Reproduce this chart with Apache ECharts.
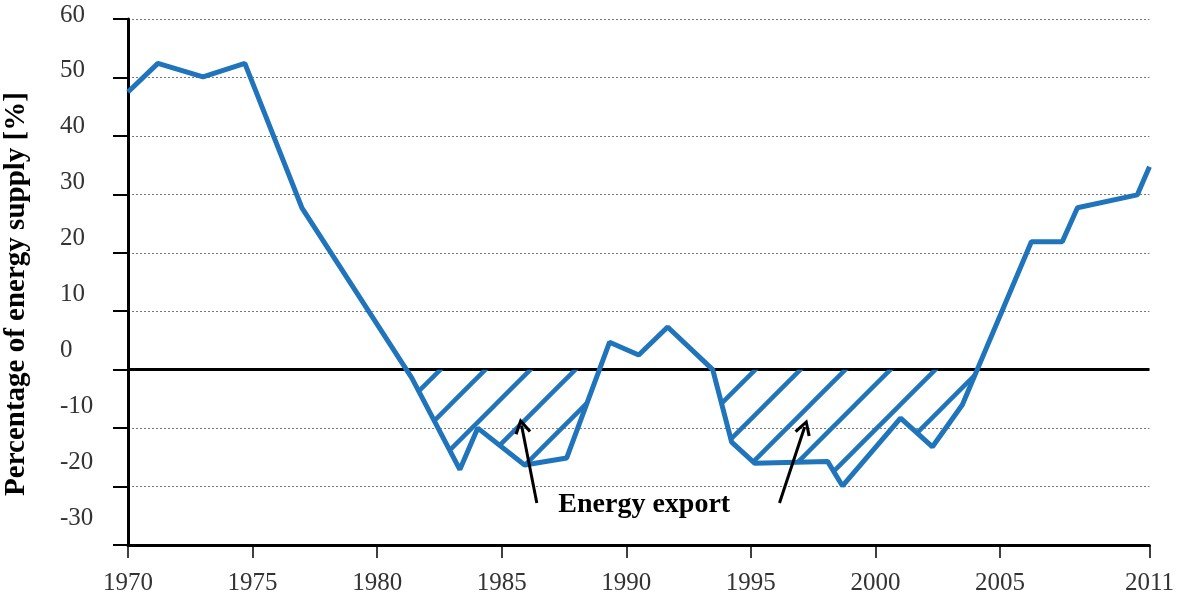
<!DOCTYPE html>
<html>
<head>
<meta charset="utf-8">
<script src="https://cdn.jsdelivr.net/npm/echarts@6/dist/echarts.min.js"></script>
<style>
  html, body { margin: 0; padding: 0; background: #fff; }
  #main { width: 1177px; height: 597px; }
</style>
</head>
<body>
<div id="main"></div>
<script>
// (x in years, y in %)
const years = [1970.00, 1971.20, 1973.01, 1974.69, 1976.98, 1981.39, 1983.32, 1984.04, 1985.92, 1987.61,
  1989.33, 1990.50, 1991.66, 1993.47, 1994.23, 1995.15, 1998.08, 1998.68, 2001.01, 2002.29,
  2003.49, 2006.26, 2007.50, 2008.11, 2010.51, 2011.00]
const share = [47.5, 52.4, 50.1, 52.4, 27.7, -1.4, -17.1, -10.0, -16.3, -15.1,
  4.7, 2.5, 7.3, 0.0, -12.4, -16.0, -15.7, -19.9, -8.3, -13.2,
  -6.0, 21.9, 21.9, 27.7, 29.9, 34.7]
const xTickYears = [1970, 1975, 1980, 1985, 1990, 1995, 2000, 2005, 2011]
const yTicks = [-30, -20, -10, 0, 10, 20, 30, 40, 50, 60]

const blue = '#1f74bb'
const serif = '"Liberation Serif", "Times New Roman", serif'

const linePoints = years.map((y, i) => [y, share[i]])

// negative part only (zero crossings added) for the hatched "export" area
const exportPoints = []
for (let i = 0; i < linePoints.length; i++) {
  const [x1, v1] = linePoints[i]
  exportPoints.push([x1, Math.min(v1, 0)])
  if (i < linePoints.length - 1) {
    const [x2, v2] = linePoints[i + 1]
    if ((v1 < 0 && v2 > 0) || (v1 > 0 && v2 < 0)) {
      exportPoints.push([x1 + (x2 - x1) * v1 / (v1 - v2), 0])
    }
  }
}

// diagonal hatch tile
function hatchTile() {
  const s = 45
  const c = document.createElement('canvas')
  c.width = s
  c.height = s
  const ctx = c.getContext('2d')
  ctx.strokeStyle = blue
  ctx.lineWidth = 4.5
  ;[0, s, 2 * s].forEach(k => {
    ctx.beginPath()
    ctx.moveTo(k - s - 10, s + 10)
    ctx.lineTo(k + 10, -10)
    ctx.stroke()
  })
  return c
}

// open chevron arrow head, tip at top
const arrowHead = 'path://M0,14 L8,0 L16,14 L13.4,15.4 L8,5.6 L2.6,15.4 Z'

const myChart = echarts.init(document.getElementById('main'))
const option = {
  animation: false,
  backgroundColor: '#ffffff',
  grid: [
    { left: 128, right: 26, top: 19, bottom: 52 },
    // labels of the picture sit a little above their ticks: own box for them
    { left: 128, right: 26, top: 15, bottom: 79 }
  ],
  xAxis: [
    {
      type: 'value',
      min: 1970,
      max: 2011,
      axisLine: { onZero: false, lineStyle: { color: '#000', width: 3 } },
      axisTick: { customValues: xTickYears, length: 13, lineStyle: { color: '#000', width: 1.5 } },
      axisLabel: {
        customValues: xTickYears,
        formatter: v => String(v),
        margin: 26,
        fontFamily: serif,
        fontSize: 25,
        color: '#333'
      },
      splitLine: { show: false }
    },
    { gridIndex: 1, type: 'value', min: 0, max: 1, show: false }
  ],
  yAxis: [
    {
      type: 'value',
      min: -30,
      max: 60,
      interval: 10,
      axisLine: { show: true, onZero: false, lineStyle: { color: '#000', width: 3 } },
      axisTick: { show: true, length: 15, lineStyle: { color: '#000', width: 2 } },
      axisLabel: { show: false },
      splitLine: { lineStyle: { color: '#777', width: 1, type: [2, 2] } }
    },
    {
      gridIndex: 1,
      type: 'value',
      min: -30,
      max: 60,
      interval: 10,
      axisLine: { show: false },
      axisTick: { show: false },
      splitLine: { show: false },
      axisLabel: {
        customValues: yTicks,
        align: 'left',
        margin: 68,
        fontFamily: serif,
        fontSize: 25,
        color: '#333'
      }
    }
  ],
  graphic: [{
    type: 'text',
    x: 17,
    y: 294,
    rotation: Math.PI / 2,
    style: {
      text: 'Percentage of energy supply [%]',
      fontFamily: serif,
      fontSize: 29,
      fontWeight: 'bold',
      fill: '#000',
      textAlign: 'center',
      textVerticalAlign: 'middle'
    }
  }],
  series: [
    {
      name: 'export',
      type: 'line',
      data: exportPoints,
      symbol: 'none',
      z: 2,
      lineStyle: { width: 0, opacity: 0 },
      areaStyle: { color: { image: hatchTile(), repeat: 'repeat' }, opacity: 1 },
      markLine: {
        silent: true,
        z: 1,
        symbol: 'none',
        label: { show: false },
        lineStyle: { color: '#000', width: 3, type: 'solid' },
        data: [{ yAxis: 0 }]
      }
    },
    {
      name: 'share',
      type: 'line',
      data: linePoints,
      symbol: 'none',
      z: 3,
      lineStyle: { color: blue, width: 5 },
      markLine: {
        silent: true,
        z: 6,
        symbol: ['none', arrowHead],
        symbolSize: [17, 16],
        label: { show: false },
        lineStyle: { color: '#000', width: 3, type: 'solid' },
        data: [
          [{ coord: [1986.41, -22.8] }, { coord: [1985.80, -9.6] }],
          [{ coord: [1996.15, -22.8] }, { coord: [1997.16, -9.8] }]
        ]
      },
      markPoint: {
        silent: true,
        symbol: 'circle',
        symbolSize: 0,
        label: {
          show: true,
          position: 'inside',
          formatter: 'Energy export',
          fontFamily: serif,
          fontSize: 28,
          fontWeight: 'bold',
          color: '#000'
        },
        data: [{ coord: [1990.72, -23.2] }]
      }
    }
  ]
}
option && myChart.setOption(option)
</script>
</body>
</html>
